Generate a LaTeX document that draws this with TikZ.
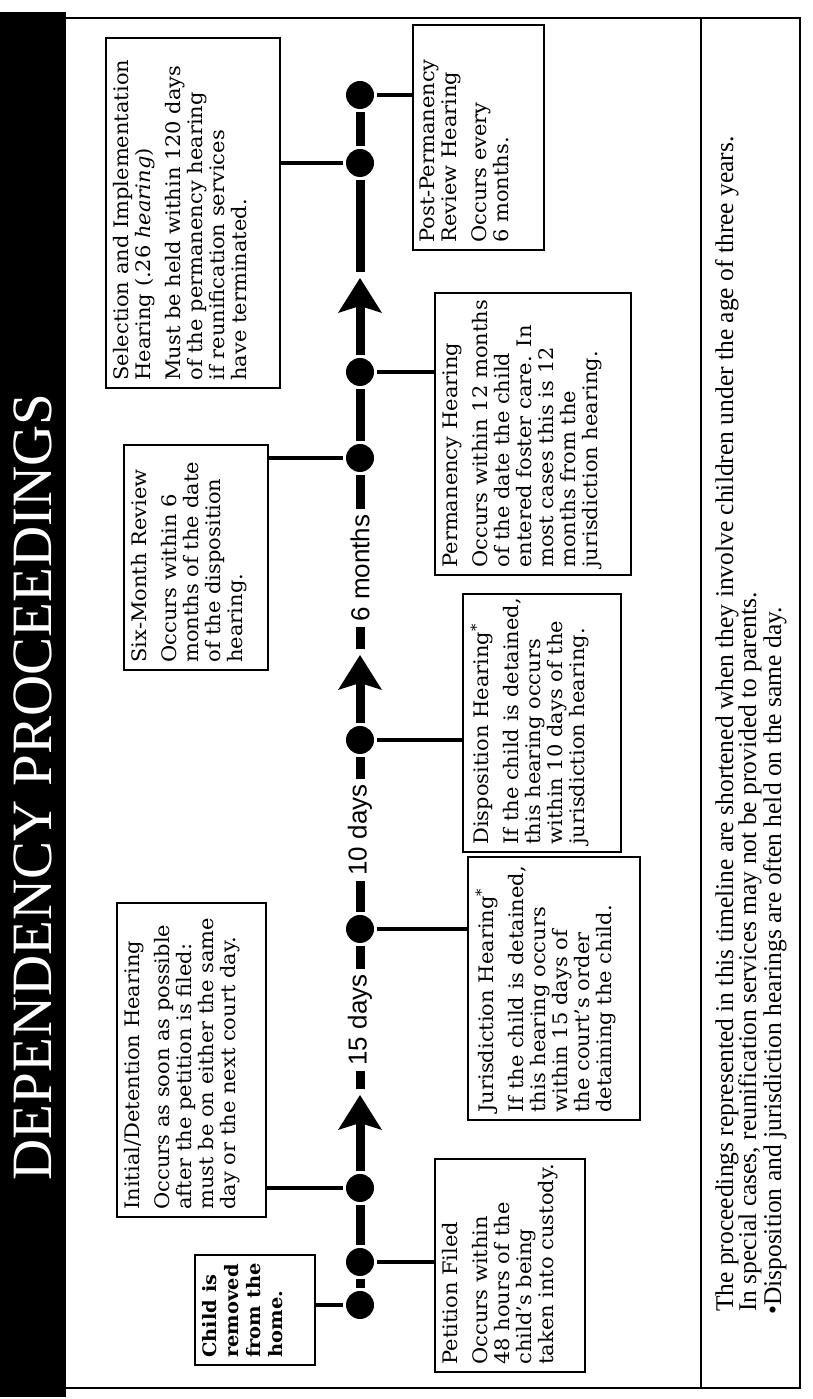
\documentclass[tikz,border=0pt]{standalone}
\usepackage{fontspec}
\setmainfont{DejaVu Serif}[FakeStretch=1.05]
\newfontfamily\footfont{Liberation Serif}
\newfontfamily\titlefont{Liberation Serif}
\newfontfamily\labfont{Liberation Sans}
\begin{document}
\begin{tikzpicture}[x=1pt,y=1pt,
  boxn/.style={draw, line width=1.6pt, rotate=90, inner sep=0pt},
  boxtext/.style={rotate=90, anchor=north west, inner sep=8pt, align=left,
    font=\fontsize{20}{22}\selectfont},
  dotn/.style={circle, fill=black, minimum size=28pt, inner sep=0pt},
  seg/.style={line width=9pt, shorten >=3pt, shorten <=3pt},
  conn/.style={line width=3.5pt, shorten >=3pt},
  lab/.style={rotate=90, fill=white, inner sep=2pt, font=\labfont\fontsize{26}{26}\selectfont},
  foot/.style={rotate=90, anchor=west, inner sep=0pt, font=\footfont\fontsize{25.5}{25.5}\selectfont},
  tipshape/.style={fill=black}
]
\useasboundingbox (0,0) rectangle (812,1399);
\fill[white] (0,0) rectangle (812,1399);
% title bar
\fill[black] (0,2) rectangle (66,1387);
\node[rotate=90, text=white, font=\titlefont\fontsize{57}{57}\selectfont] (title) at (33,612) {DEPENDENCY PROCEEDINGS};
% frame
\draw[line width=2.2pt] (66,1381) -- (800,1381) -- (800,11) -- (66,11);
\draw[line width=2pt] (701,1381) -- (701,11);

% boxes
\node[boxn, minimum width=110pt, minimum height=120pt] (child) at (255,89) {};
\node[boxn, minimum width=314pt, minimum height=149pt] (initial) at (191.5,339) {};
\node[boxn, minimum width=225pt, minimum height=144pt] (sixm) at (196,841.5) {};
\node[boxn, minimum width=350pt, minimum height=174pt] (sel) at (193,1186) {};
\node[boxn, minimum width=213pt, minimum height=150pt] (pet) at (510,133.5) {};
\node[boxn, minimum width=263pt, minimum height=172pt] (jur) at (554,410.5) {};
\node[boxn, minimum width=258pt, minimum height=158pt] (dis) at (542,676) {};
\node[boxn, minimum width=282pt, minimum height=196pt] (perm) at (533,965) {};
\node[boxn, minimum width=225pt, minimum height=131pt] (post) at (478.5,1261.5) {};

% box texts
\node[boxtext, font=\fontsize{18.5}{22}\selectfont\bfseries] (childT) at (child.north west) {Child is\\removed\\from the\\home.};
\node[boxtext] (petT) at (pet.north west) {Petition Filed\\[8pt]Occurs within\\48 hours of the\\child's being\\taken into custody.};
\node[boxtext] (initialT) at (initial.north west) {Initial/Detention Hearing\\[8pt]Occurs as soon as possible\\after the petition is filed:\\must be on either the same\\day or the next court day.};
\node[boxtext] (jurT) at (jur.north west) {Jurisdiction Hearing\textsuperscript{*}\\[8pt]If the child is detained,\\this hearing occurs\\within 15 days of\\the court's order\\detaining the child.};
\node[boxtext] (disT) at (dis.north west) {Disposition Hearing\textsuperscript{*}\\[8pt]If the child is detained,\\this hearing occurs\\within 10 days of the\\jurisdiction hearing.};
\node[boxtext] (sixmT) at (sixm.north west) {Six-Month Review\\[8pt]Occurs within 6\\months of the date\\of the disposition\\hearing.};
\node[boxtext] (permT) at (perm.north west) {Permanency Hearing\\[8pt]Occurs within 12 months\\of the date the child\\entered foster care. In\\most cases this is 12\\months from the\\jurisdiction hearing.};
\node[boxtext] (selT) at (sel.north west) {Selection and Implementation\\Hearing (.26 \textit{hearing})\\[8pt]Must be held within 120 days\\of the permanency hearing\\if reunification services\\have terminated.};
\node[boxtext] (postT) at (post.north west) {Post-Permanency\\Review Hearing\\[8pt]Occurs every\\6 months.};

% timeline dots
\node[dotn] (cd) at (360,94) {};
\node[dotn] (pd) at (360,137) {};
\node[dotn] (id) at (360,211) {};
\node[dotn] (jd) at (360,470) {};
\node[dotn] (dd) at (360,659) {};
\node[dotn] (sd) at (360,941) {};
\node[dotn] (md) at (360,1027) {};
\node[dotn] (ld) at (360,1236) {};
\node[dotn] (qd) at (360,1304) {};

% labels on the axis
\node[lab] (l15) at (360,379) {15 days};
\node[lab] (l10) at (360,569) {10 days};
\node[lab] (l6) at (360,831) {6 months};

% arrow tips and gap points
\coordinate (a1) at (360,304);
\coordinate (a1n) at (360,282);
\coordinate (a1g) at (360,310);
\coordinate (a2) at (360,744);
\coordinate (a2n) at (360,722);
\coordinate (a2g) at (360,750);
\coordinate (a3) at (360,1121);
\coordinate (a3n) at (360,1099);
\coordinate (a3g) at (360,1127);

% axis segments
\draw[seg] (cd) -- (pd);
\draw[seg] (pd) -- (id);
\draw[seg, shorten >=0pt] (id) -- (a1n);
\draw[seg, shorten <=0pt] (a1g) -- (l15);
\draw[seg] (l15) -- (jd);
\draw[seg] (jd) -- (l10);
\draw[seg] (l10) -- (dd);
\draw[seg, shorten >=0pt] (dd) -- (a2n);
\draw[seg, shorten <=0pt] (a2g) -- (l6);
\draw[seg] (l6) -- (sd);
\draw[seg] (sd) -- (md);
\draw[seg, shorten >=0pt] (md) -- (a3n);
\draw[seg, shorten <=0pt] (a3g) -- (ld);
\draw[seg] (ld) -- (qd);

% arrowheads
\fill[tipshape] (a1) -- ++(22,-35) -- ++(-22,7) -- ++(-22,-7) -- cycle;
\fill[tipshape] (a2) -- ++(22,-35) -- ++(-22,7) -- ++(-22,-7) -- cycle;
\fill[tipshape] (a3) -- ++(22,-35) -- ++(-22,7) -- ++(-22,-7) -- cycle;

% connectors
\draw[conn] (child.south |- cd) -- (cd);
\draw[conn] (pet.north |- pd) -- (pd);
\draw[conn] (initial.south |- id) -- (id);
\draw[conn] (jur.north |- jd) -- (jd);
\draw[conn] (dis.north |- dd) -- (dd);
\draw[conn] (sixm.south |- sd) -- (sd);
\draw[conn] (perm.north |- md) -- (md);
\draw[conn] (sel.south |- ld) -- (ld);
\draw[conn] (post.north |- qd) -- (qd);

% footer
\node[foot] (f1) at (727,87) {The proceedings represented in this timeline are shortened when they involve children under the age of three years.};
\node[foot] (f2) at (750,87) {In special cases, reunification services may not be provided to parents.};
\node[foot] (f3) at (775,84) {\textbullet Disposition and jurisdiction hearings are often held on the same day.};
\end{tikzpicture}
\end{document}
